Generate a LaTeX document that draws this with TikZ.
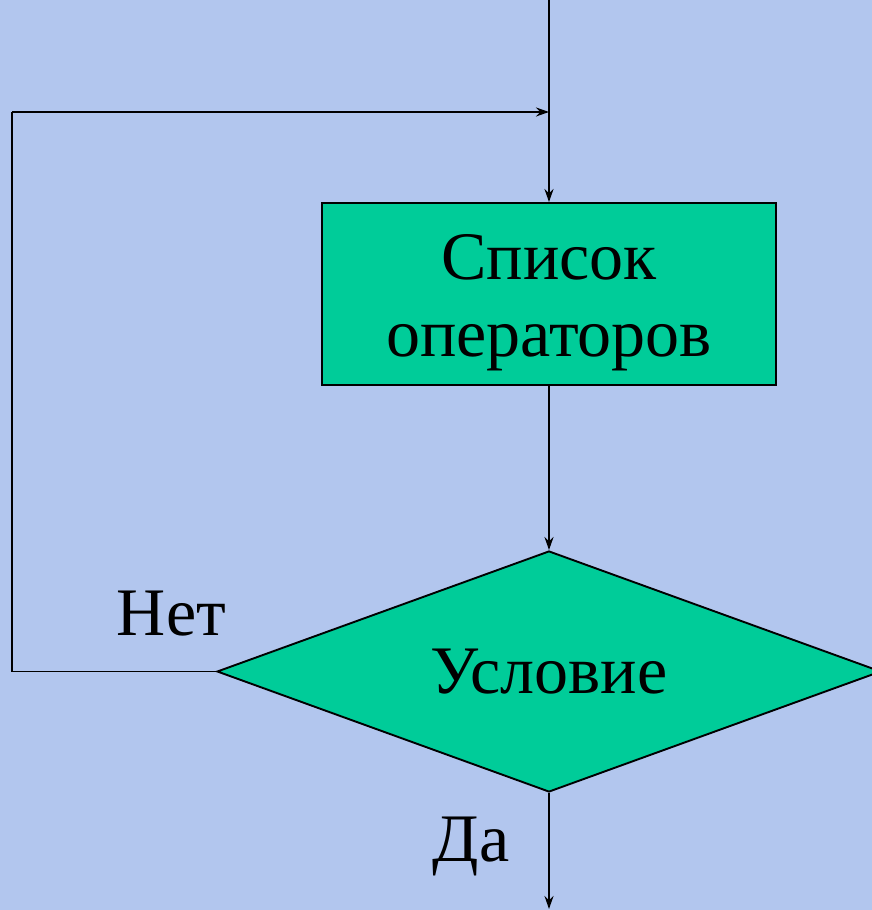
\documentclass[tikz,border=0pt]{standalone}
\usepackage{fontspec}
\setmainfont{Liberation Serif}
\usepackage{xcolor}
\usepackage{tikz}
\usetikzlibrary{calc,shapes.geometric,arrows.meta}
\definecolor{bg}{HTML}{B2C6EE}
\definecolor{box}{HTML}{00CC99}
\tikzset{
  flow/.style={draw=black, line width=1.9pt, -{Stealth[length=13pt,width=9pt]}},
  edge/.style={draw=black, line width=1.9pt},
  block/.style={rectangle, draw=black, line width=1.9pt, fill=box, minimum width=454pt, minimum height=182pt, inner sep=0pt, align=center, font=\fontsize{68}{77}\selectfont},
  cond/.style={diamond, aspect=2.755, draw=black, line width=1.9pt, fill=box, minimum width=664pt, minimum height=241pt, inner sep=0pt, font=\fontsize{68}{77}\selectfont},
  lab/.style={anchor=base, inner sep=0pt, font=\fontsize{68}{77}\selectfont}
}
\begin{document}
\begin{tikzpicture}[x=1pt,y=1pt]
  \fill[bg] (0,0) rectangle (872,910);
  \useasboundingbox (0,0) rectangle (872,910);

  \coordinate (in) at (549,910);
  \coordinate (out) at (549,1);
  \coordinate (loopb) at (12,238.5);
  \coordinate (loopt) at (12,798);
  \coordinate (join) at (549,798);

  \node[block] (ops) at (549,616) {\rule{0pt}{62pt}Список\\операторов};
  \node[cond] (test) at (549,238.5) {Условие};

  \draw[flow] (in) -- (ops.north);
  \draw[flow] (ops.south) -- (test.north);
  \draw[edge] (test.west) -- (loopb) -- (loopt);
  \draw[flow] (loopt) -- (join);
  \draw[flow] (test.south) -- (out);

  \node[lab] (no) at (171.5,274) {Нет};
  \node[lab] (yes) at (471,48) {Да};
\end{tikzpicture}
\end{document}
